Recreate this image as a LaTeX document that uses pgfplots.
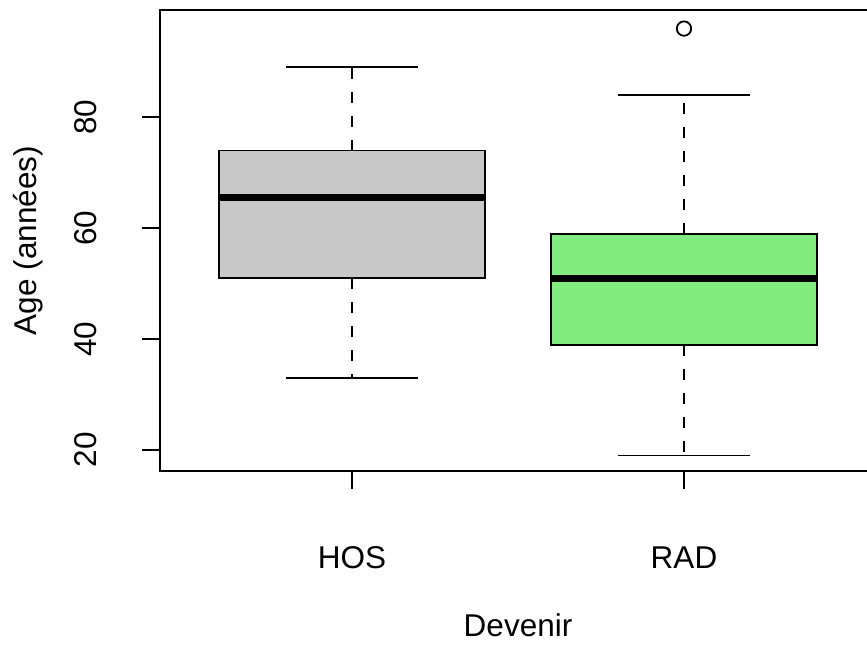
\documentclass[border=0pt]{standalone}
\usepackage{pgfplots}
\pgfplotsset{compat=1.18}
\usepgfplotslibrary{statistics}
\usepackage{fontspec}
\setmainfont{Liberation Sans}
\definecolor{boxgray}{RGB}{200,200,200}
\definecolor{boxgreen}{RGB}{130,236,128}
\begin{document}
\fontsize{15.75}{18}\selectfont
\begin{tikzpicture}
\useasboundingbox (-80pt,-87.5pt) rectangle (353.5pt,235.5pt);
\begin{axis}[
  at={(0,0)}, anchor=south west,
  scale only axis, width=354.96pt, height=230.35pt,
  xmin=0.4217, xmax=2.56, ymin=16.21, ymax=99.3,
  axis line style={line width=0.9pt, black},
  xtick={1,2}, xticklabels={HOS,RAD},
  ytick={20,40,60,80},
  /pgf/number format/assume math mode=true,
  xtick pos=bottom, ytick pos=left,
  tick align=outside, major tick length=9pt,
  tick style={line width=0.9pt, black},
  xticklabel style={anchor=base, inner sep=0pt, yshift=-40pt},
  yticklabel style={xshift=-22.5pt, rotate=90, anchor=base, inner sep=0pt},
  every axis x label/.style={at={(axis description cs:0.5043,0)}, yshift=-83pt, anchor=base, inner sep=0pt},
  every axis y label/.style={at={(axis description cs:0,0.5)}, xshift=-61.5pt, rotate=90, anchor=base, inner sep=0pt},
  xlabel={Devenir}, ylabel={Age (années)},
  boxplot/draw direction=y,
  boxplot/box extend=0.8,
  boxplot/whisker extend=0.4,
  boxplot/every median/.style={line width=3.5pt, draw=black},
  boxplot/every box/.style={line width=0.9pt, draw=black},
  boxplot/draw/whisker/.code 2 args={
    \draw[line width=0.9pt, draw=black, fill=none, dash pattern=on 5.5pt off 6.5pt]
      (boxplot box cs:#1,0.5) -- (boxplot box cs:#2,0.5);
    \draw[line width=0.9pt, draw=black, fill=none, solid]
      (boxplot whisker cs:#2,0) -- (boxplot whisker cs:#2,1);
  },
]
\addplot[draw=black, fill=boxgray, line width=0.9pt,
  boxplot prepared={draw position=1, lower whisker=33, lower quartile=51,
    median=65.5, upper quartile=74, upper whisker=89}]
  coordinates {};
\addplot[draw=black, fill=boxgreen, line width=0.9pt,
  mark=o, mark size=3.6pt, mark options={solid, fill=none, draw=black, line width=0.9pt},
  boxplot prepared={draw position=2, lower whisker=19, lower quartile=39,
    median=51, upper quartile=59, upper whisker=84}]
  table[row sep=\\, y index=0] {v\\ 96\\};
\end{axis}
\end{tikzpicture}
\end{document}
